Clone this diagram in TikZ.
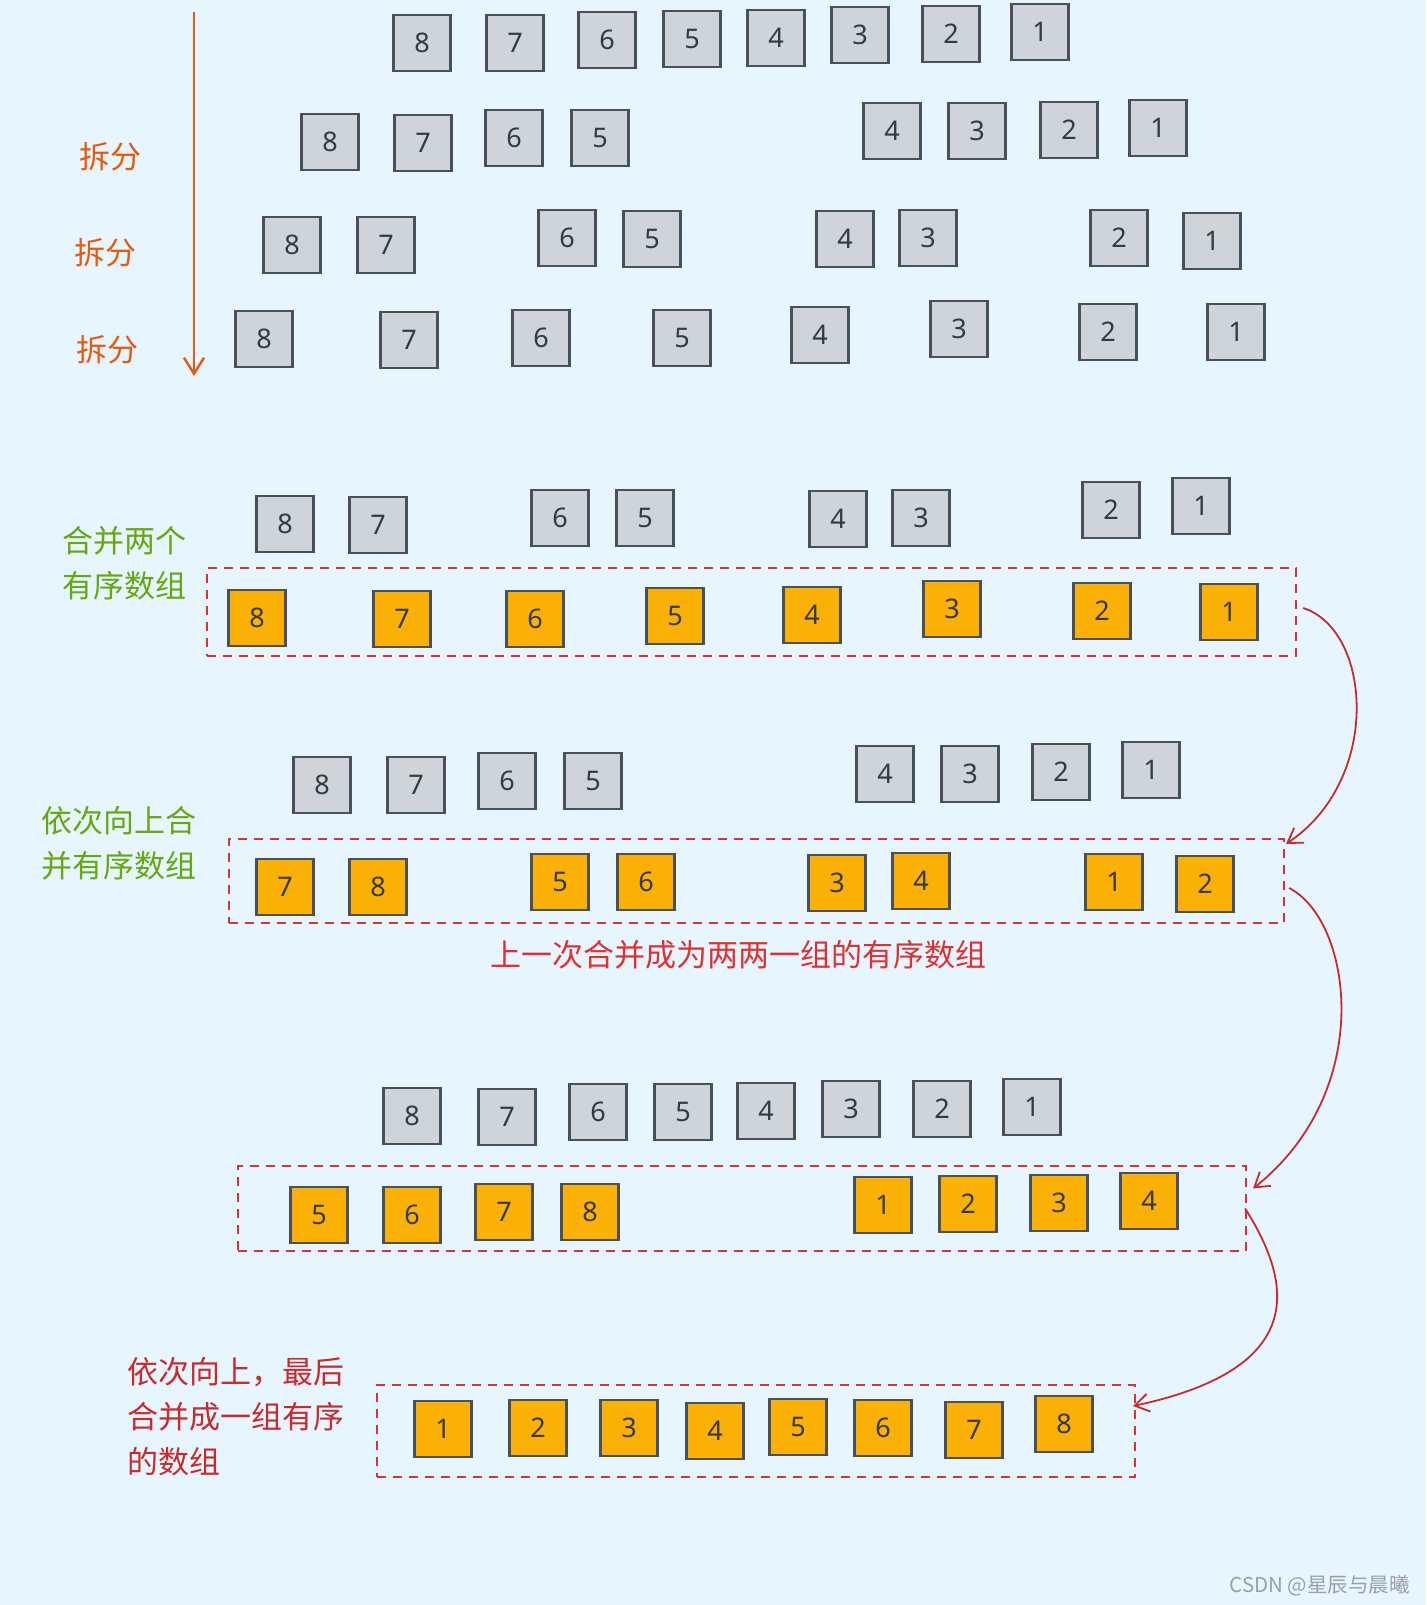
\documentclass[tikz,border=0pt]{standalone}
\usepackage{fontspec}
\setmainfont{Noto Sans}
\newfontfamily\cjk{Noto Sans CJK SC}
\usetikzlibrary{arrows.meta}
\definecolor{bgc}{HTML}{E7F5FF}
\definecolor{gfill}{HTML}{CED4DA}
\definecolor{strk}{HTML}{495057}
\definecolor{ofill}{HTML}{FAB005}
\definecolor{dred}{HTML}{E03131}
\definecolor{lgreen}{HTML}{66A80F}
\definecolor{lorange}{HTML}{E8590C}
\definecolor{cred}{HTML}{C92A2A}
\definecolor{digc}{HTML}{343A40}
\definecolor{wmark}{HTML}{9AA0A6}
\tikzset{
  cell/.style={rectangle, draw=strk, line width=2.4pt, minimum width=57pt, minimum height=56pt, inner sep=0pt,
    font=\fontsize{27}{27}\selectfont, text=digc},
  gbox/.style={cell, fill=gfill},
  obox/.style={cell, fill=ofill},
  group/.style={rectangle, draw=dred, line width=2.2pt, dash pattern=on 9pt off 7pt, inner sep=0pt},
  cntext/.style={font=\cjk\fontsize{31}{45}\selectfont, inner sep=0pt, align=left},
  curve/.style={draw=cred, line width=1.8pt, -{Straight Barb[length=14pt, width=18pt, line width=1.8pt]}},
}
\begin{document}
\begin{tikzpicture}[x=1pt, y=-1pt]
\useasboundingbox[fill=bgc] (0,0) rectangle (1426,1605);

% split arrow
\coordinate (sa) at (194,12);
\coordinate (sb) at (194,376);
\draw[lorange, line width=2.4pt, -{Straight Barb[length=16pt, width=20pt, line width=2.4pt]}] (sa) -- (sb);
\node[cntext, text=lorange] (s1) at (110,157) {拆分};
\node[cntext, text=lorange] (s2) at (105,253) {拆分};
\node[cntext, text=lorange] (s3) at (107,350) {拆分};

% row 1
\node[gbox] (a8) at (422,43) {8};
\node[gbox] (a7) at (515,43) {7};
\node[gbox] (a6) at (607,40) {6};
\node[gbox] (a5) at (692,39) {5};
\node[gbox] (a4) at (776,38) {4};
\node[gbox] (a3) at (860,35) {3};
\node[gbox] (a2) at (951,34) {2};
\node[gbox] (a1) at (1040,32) {1};
% row 2
\node[gbox] (b8) at (330,142) {8};
\node[gbox] (b7) at (423,143) {7};
\node[gbox] (b6) at (514,138) {6};
\node[gbox] (b5) at (600,138) {5};
\node[gbox] (b4) at (892,131) {4};
\node[gbox] (b3) at (977,131) {3};
\node[gbox] (b2) at (1069,130) {2};
\node[gbox] (b1) at (1158,128) {1};
% row 3
\node[gbox] (c8) at (292,245) {8};
\node[gbox] (c7) at (386,245) {7};
\node[gbox] (c6) at (567,238) {6};
\node[gbox] (c5) at (652,239) {5};
\node[gbox] (c4) at (845,239) {4};
\node[gbox] (c3) at (928,238) {3};
\node[gbox] (c2) at (1119,238) {2};
\node[gbox] (c1) at (1212,241) {1};
% row 4
\node[gbox] (d8) at (264,339) {8};
\node[gbox] (d7) at (409,340) {7};
\node[gbox] (d6) at (541,338) {6};
\node[gbox] (d5) at (682,338) {5};
\node[gbox] (d4) at (820,335) {4};
\node[gbox] (d3) at (959,329) {3};
\node[gbox] (d2) at (1108,332) {2};
\node[gbox] (d1) at (1236,332) {1};

% merge step 1
\node[cntext, text=lgreen, anchor=west] (m1) at (62,563) {合并两个\\有序数组};
\node[gbox] (e8) at (285,524) {8};
\node[gbox] (e7) at (378,525) {7};
\node[gbox] (e6) at (560,518) {6};
\node[gbox] (e5) at (645,518) {5};
\node[gbox] (e4) at (838,519) {4};
\node[gbox] (e3) at (921,518) {3};
\node[gbox] (e2) at (1111,510) {2};
\node[gbox] (e1) at (1201,506) {1};
\node[group, minimum width=1089pt, minimum height=88pt] (g1) at (751.5,612) {};
\node[obox] (f8) at (257,618) {8};
\node[obox] (f7) at (402,619) {7};
\node[obox] (f6) at (535,619) {6};
\node[obox] (f5) at (675,616) {5};
\node[obox] (f4) at (812,615) {4};
\node[obox] (f3) at (952,609) {3};
\node[obox] (f2) at (1102,611) {2};
\node[obox] (f1) at (1229,612) {1};

% merge step 2
\node[cntext, text=lgreen, anchor=west] (m2) at (41,843) {依次向上合\\并有序数组};
\node[gbox] (h8) at (322,785) {8};
\node[gbox] (h7) at (416,785) {7};
\node[gbox] (h6) at (507,781) {6};
\node[gbox] (h5) at (593,781) {5};
\node[gbox] (h4) at (885,774) {4};
\node[gbox] (h3) at (970,774) {3};
\node[gbox] (h2) at (1061,772) {2};
\node[gbox] (h1) at (1151,770) {1};
\node[group, minimum width=1055pt, minimum height=84pt] (g2) at (756.5,881) {};
\node[obox] (i7) at (285,887) {7};
\node[obox] (i8) at (378,887) {8};
\node[obox] (i5) at (560,882) {5};
\node[obox] (i6) at (646,882) {6};
\node[obox] (i3) at (837,883) {3};
\node[obox] (i4) at (921,881) {4};
\node[obox] (i1) at (1114,882) {1};
\node[obox] (i2) at (1205,884) {2};
\node[cntext, text=dred] (note) at (738,955) {上一次合并成为两两一组的有序数组};

% merge step 3
\node[gbox] (j8) at (412,1116) {8};
\node[gbox] (j7) at (507,1117) {7};
\node[gbox] (j6) at (598,1112) {6};
\node[gbox] (j5) at (683,1112) {5};
\node[gbox] (j4) at (766,1111) {4};
\node[gbox] (j3) at (851,1109) {3};
\node[gbox] (j2) at (942,1109) {2};
\node[gbox] (j1) at (1032,1107) {1};
\node[group, minimum width=1008pt, minimum height=85pt] (g3) at (742,1208.5) {};
\node[obox] (k5) at (319,1215) {5};
\node[obox] (k6) at (412,1215) {6};
\node[obox] (k7) at (504,1212) {7};
\node[obox] (k8) at (590,1212) {8};
\node[obox] (k1) at (883,1205) {1};
\node[obox] (k2) at (968,1204) {2};
\node[obox] (k3) at (1059,1203) {3};
\node[obox] (k4) at (1149,1201) {4};

% final
\node[cntext, text=cred, anchor=west] (m3) at (127,1417) {依次向上，最后\\合并成一组有序\\的数组};
\node[group, minimum width=758pt, minimum height=92pt] (g4) at (756,1431) {};
\node[obox] (l1) at (443,1429) {1};
\node[obox] (l2) at (538,1428) {2};
\node[obox] (l3) at (629,1428) {3};
\node[obox] (l4) at (715,1431) {4};
\node[obox] (l5) at (798,1427) {5};
\node[obox] (l6) at (883,1428) {6};
\node[obox] (l7) at (974,1430) {7};
\node[obox] (l8) at (1064,1424) {8};

% curved arrows
\draw[curve] ([xshift=6pt, yshift=4pt]g1.east) .. controls (1372,630) and (1382,780) .. ([xshift=1pt, yshift=-6pt]g2.north east);
\draw[curve] ([xshift=4pt, yshift=-7pt]g2.east) .. controls (1352,920) and (1377,1090) .. ([xshift=6pt, yshift=20pt]g3.east);
\draw[curve] ([xshift=-2pt]g3.east) .. controls (1297,1290) and (1302,1370) .. ([xshift=-3pt, yshift=25pt]g4.east);

% watermark
\node[font=\cjk\fontsize{20.5}{20.5}\selectfont, text=wmark, anchor=east, inner sep=0pt] (wm) at (1410,1586) {CSDN @星辰与晨曦};
\end{tikzpicture}
\end{document}
